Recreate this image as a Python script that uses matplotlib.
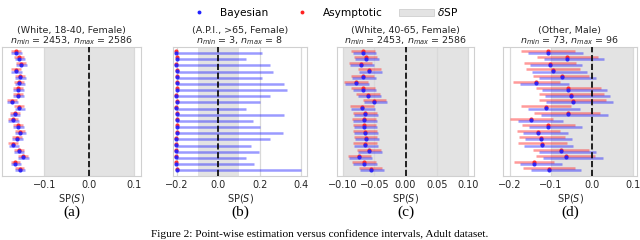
import matplotlib
matplotlib.use("Agg")
import matplotlib.pyplot as plt
from matplotlib.lines import Line2D
from matplotlib.patches import Patch

# ---------------- data ----------------
titles = ["(White, 18-40, Female)", "(A.P.I., >65, Female)",
          "(White, 40-65, Female)", "(Other, Male)"]
n_min = [2453, 3, 2453, 73]
n_max = [2586, 8, 2586, 96]
panel_labels = ["(a)", "(b)", "(c)", "(d)"]

# panel (a)
a_pt = [-0.163, -0.156, -0.152, -0.163, -0.154, -0.156, -0.159, -0.159, -0.172, -0.156,
        -0.166, -0.170, -0.159, -0.154, -0.161, -0.169, -0.157, -0.148, -0.164, -0.155]
a_asy_lo = [-0.174, -0.167, -0.163, -0.174, -0.165, -0.167, -0.170, -0.170, -0.183, -0.167,
            -0.177, -0.181, -0.170, -0.165, -0.172, -0.180, -0.168, -0.159, -0.175, -0.166]
a_asy_hi = [-0.152, -0.145, -0.141, -0.152, -0.143, -0.145, -0.148, -0.148, -0.161, -0.145,
            -0.155, -0.159, -0.148, -0.143, -0.150, -0.158, -0.146, -0.137, -0.153, -0.144]
a_bay_lo = [-0.173, -0.166, -0.162, -0.173, -0.164, -0.166, -0.169, -0.169, -0.182, -0.166,
            -0.176, -0.180, -0.169, -0.164, -0.171, -0.179, -0.167, -0.158, -0.174, -0.165]
a_bay_hi = [-0.150, -0.143, -0.139, -0.150, -0.141, -0.143, -0.146, -0.146, -0.159, -0.143,
            -0.153, -0.157, -0.146, -0.141, -0.148, -0.156, -0.144, -0.135, -0.151, -0.142]

# panel (b)
b_pt = [-0.203, -0.202, -0.205, -0.202, -0.201, -0.202, -0.202, -0.204, -0.202, -0.203,
        -0.200, -0.202, -0.202, -0.202, -0.203, -0.205, -0.203, -0.203, -0.204, -0.200]
b_asy_lo = b_pt
b_asy_hi = b_pt
b_bay_lo = b_pt
b_bay_hi = [0.213, 0.135, 0.249, 0.265, 0.213, 0.317, 0.330, 0.252, 0.203, 0.132,
            0.319, 0.167, 0.200, 0.314, 0.252, 0.156, 0.197, 0.132, 0.172, 0.400]

# panel (c)
c_pt = [-0.068, -0.064, -0.072, -0.058, -0.069, -0.080, -0.068, -0.060, -0.050, -0.070,
        -0.065, -0.067, -0.066, -0.065, -0.064, -0.065, -0.059, -0.074, -0.067, -0.056]
c_asy_lo = [-0.087, -0.083, -0.091, -0.077, -0.088, -0.099, -0.087, -0.079, -0.069, -0.089,
            -0.084, -0.086, -0.085, -0.084, -0.083, -0.084, -0.078, -0.093, -0.086, -0.075]
c_asy_hi = [-0.049, -0.045, -0.053, -0.039, -0.050, -0.061, -0.049, -0.041, -0.031, -0.051,
            -0.046, -0.048, -0.047, -0.046, -0.045, -0.046, -0.040, -0.055, -0.048, -0.037]
c_bay_lo = [-0.085, -0.081, -0.089, -0.075, -0.086, -0.097, -0.085, -0.077, -0.067, -0.087,
            -0.082, -0.084, -0.083, -0.082, -0.081, -0.082, -0.076, -0.091, -0.084, -0.073]
c_bay_hi = [-0.047, -0.043, -0.051, -0.037, -0.048, -0.059, -0.047, -0.039, -0.029, -0.049,
            -0.044, -0.046, -0.045, -0.044, -0.043, -0.044, -0.038, -0.053, -0.046, -0.035]

# panel (d)
d_pt = [-0.107, -0.061, -0.102, -0.096, -0.073, -0.136, -0.058, -0.050, -0.046, -0.111,
        -0.059, -0.149, -0.106, -0.132, -0.124, -0.122, -0.075, -0.063, -0.141, -0.104]
d_asy_lo = [-0.173, -0.134, -0.165, -0.161, -0.145, -0.193, -0.137, -0.130, -0.128, -0.172,
            -0.141, -0.201, -0.171, -0.183, -0.179, -0.181, -0.145, -0.136, -0.189, -0.167]
d_asy_hi = [-0.041, 0.014, -0.040, -0.030, -0.006, -0.079, 0.022, 0.029, 0.035, -0.050,
            0.020, -0.095, -0.041, -0.077, -0.065, -0.061, -0.006, 0.008, -0.092, -0.041]
d_bay_lo = [-0.157, -0.118, -0.150, -0.146, -0.128, -0.175, -0.121, -0.114, -0.111, -0.156,
            -0.124, -0.181, -0.154, -0.168, -0.163, -0.165, -0.128, -0.120, -0.175, -0.149]
d_bay_hi = [-0.022, 0.030, -0.024, -0.011, 0.011, -0.057, 0.037, 0.045, 0.051, -0.030,
            0.039, -0.071, -0.024, -0.059, -0.049, -0.045, 0.011, 0.026, -0.073, -0.027]

delta_sp = 0.1
xticks = [[-0.1, 0.0, 0.1], [-0.2, 0.0, 0.2, 0.4],
          [-0.10, -0.05, 0.00, 0.05, 0.10], [-0.2, -0.1, 0.0, 0.1]]
xlims = [(-0.194, 0.115), (-0.219, 0.429), (-0.110, 0.110), (-0.217, 0.110)]

panels = [
    (a_pt, a_asy_lo, a_asy_hi, a_bay_lo, a_bay_hi),
    (b_pt, b_asy_lo, b_asy_hi, b_bay_lo, b_bay_hi),
    (c_pt, c_asy_lo, c_asy_hi, c_bay_lo, c_bay_hi),
    (d_pt, d_asy_lo, d_asy_hi, d_bay_lo, d_bay_hi),
]

# ---------------- style ----------------
plt.rcParams['font.family'] = ['DejaVu Sans']
plt.rcParams['mathtext.fontset'] = 'dejavusans'
BLUE = '#2020ff'
RED = '#ff2020'
GRID = '#d9d9d9'
SPAN = '#e3e3e3'

fig = plt.figure(figsize=(6.4, 2.4), dpi=100)
lefts = [2, 173, 337, 503]
rights = [141, 307, 474, 637]
top_px, bot_px = 47, 176
W, H = 640, 240

for k in range(4):
    ax = fig.add_axes([lefts[k] / W, 1 - bot_px / H,
                       (rights[k] - lefts[k]) / W, (bot_px - top_px) / H])
    pt, alo, ahi, blo, bhi = panels[k]
    n = len(pt)
    ys = list(range(n - 1, -1, -1))
    ax.axvspan(-delta_sp, delta_sp, color=SPAN, zorder=0.5, lw=0)
    for x in xticks[k]:
        ax.axvline(x, color=GRID, lw=0.9, zorder=0.8)
    off = 0.17
    for i in range(n):
        y = ys[i]
        ax.plot([alo[i], ahi[i]], [y + off, y + off], color=RED, alpha=0.45,
                lw=1.8, solid_capstyle='butt', zorder=2)
        ax.plot([blo[i], bhi[i]], [y - off, y - off], color=BLUE, alpha=0.45,
                lw=1.8, solid_capstyle='butt', zorder=2)
        ax.plot(pt[i], y + off * 0.6, 'o', color=RED, ms=3.0, mew=0, alpha=0.9, zorder=3)
        ax.plot(pt[i], y - off * 0.6, 'o', color=BLUE, ms=3.0, mew=0, alpha=0.9, zorder=3)
    ax.axvline(0, color='k', ls='--', lw=1.2, zorder=4)
    ax.set_xlim(*xlims[k])
    ax.set_ylim(-1.1, n - 0.2)
    ax.set_yticks([])
    ax.set_xticks(xticks[k])
    ax.tick_params(axis='x', length=0, pad=3, labelsize=7, colors='#262626')
    for s in ax.spines.values():
        s.set_color('#d0d0d0')
        s.set_linewidth(0.8)
    ax.set_xlabel('SP($S$)', fontsize=7, color='#262626', labelpad=1)
    ax.set_title(titles[k] + '\n' + r'$n_{min}$ = %d, $n_{max}$ = %d' % (n_min[k], n_max[k]),
                 fontsize=6.8, color='#262626', pad=2, linespacing=1.0)
    cx = (lefts[k] + rights[k]) / 2 / W
    fig.text(cx, 1 - 212 / H, panel_labels[k], ha='center', va='center',
             fontsize=11, family='Liberation Serif')

handles = [
    Line2D([], [], marker='o', ls='', color=BLUE, ms=2.8, mew=0),
    Line2D([], [], marker='o', ls='', color=RED, ms=2.8, mew=0),
    Patch(facecolor=SPAN, edgecolor='#cfcfcf', lw=0.6),
]
fig.legend(handles, ['Bayesian', 'Asymptotic', r'$\delta$SP'], loc='upper center',
           bbox_to_anchor=(0.50, 1.015), ncol=3, frameon=False, fontsize=7.6,
           handlelength=3.3, handletextpad=0.3, columnspacing=1.6)

fig.text(0.5, 0.004,
         'Figure 2: Point-wise estimation versus confidence intervals, Adult dataset.',
         ha='center', va='bottom', fontsize=8.2, family='Liberation Serif')

fig.savefig('out.png', dpi=100)
